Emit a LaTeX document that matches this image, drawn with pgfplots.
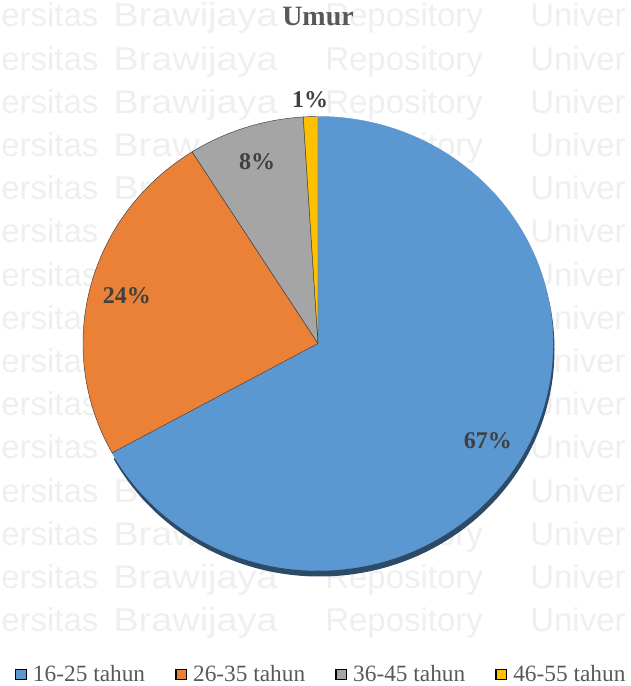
\documentclass[border=0pt]{standalone}
\usepackage{pgfplots}
\pgfplotsset{compat=1.18}
\usepackage{pgfplotstable}
\usepackage{fontspec}
\setmainfont{Liberation Serif}
\newfontfamily\wmfont{Liberation Sans}

\definecolor{cBlue}{HTML}{5B97D1}
\definecolor{cOrange}{HTML}{EA8136}
\definecolor{cGray}{HTML}{A5A5A5}
\definecolor{cYellow}{HTML}{FFC000}
\definecolor{cShadow}{HTML}{22405F}
\definecolor{cEdge}{HTML}{3F3F3F}
\definecolor{cTitle}{HTML}{595959}
\definecolor{cLabel}{HTML}{404040}
\definecolor{cWm}{HTML}{EFEFEF}

% Umur (age groups), percent of respondents
\pgfplotstableread{
group pct
16-25 67
26-35 24
36-45 8
46-55 1
}\agetable

\begin{document}
\begin{tikzpicture}
\useasboundingbox (0,0) rectangle (473.25pt,514.5pt);
\clip (0,0) rectangle (473.25pt,514.5pt);

\pgfplotstablegetelem{0}{pct}\of\agetable \edef\vA{\pgfplotsretval}
\pgfplotstablegetelem{1}{pct}\of\agetable \edef\vB{\pgfplotsretval}
\pgfplotstablegetelem{2}{pct}\of\agetable \edef\vC{\pgfplotsretval}
\pgfplotstablegetelem{3}{pct}\of\agetable \edef\vD{\pgfplotsretval}
\pgfmathsetmacro\aA{90}
\pgfmathsetmacro\aB{\aA-3.6*\vA}
\pgfmathsetmacro\aC{\aB-3.6*\vB}
\pgfmathsetmacro\aD{\aC-3.6*\vC}
\pgfmathsetmacro\aE{\aD-3.6*\vD}
\pgfmathsetmacro\mA{(\aA+\aB)/2}
\pgfmathsetmacro\mB{(\aB+\aC)/2}
\pgfmathsetmacro\mC{(\aC+\aD)/2}
\pgfmathsetmacro\mD{(\aD+\aE)/2}

\newcommand\slice[4]{%
  \filldraw[fill=#3, draw=#4, line width=0.35pt, line join=round]
    (axis cs:318,342.5) -- (axis cs:{318+235*cos(#1)},{342.5+227*sin(#1)})
    arc[start angle=#1, end angle=#2, x radius=176.25pt, y radius=170.25pt] -- cycle;}

\tikzset{wm/.style={anchor=base west, inner sep=0pt,
  font=\wmfont\fontsize{24.75}{26}\selectfont, text=cWm}}

\begin{axis}[
  x=0.75pt, y=0.75pt,
  xmin=0, xmax=631, ymin=0, ymax=686,
  hide axis, clip=false,
  anchor=origin, at={(0,0)},
  title={Umur},
  title style={at={(axis description cs:0.504,0.9515)}, anchor=base,
    font=\bfseries\fontsize{21}{24}\selectfont, text=cTitle},
  legend columns=4,
  legend image code/.code={\draw[#1, line width=1.1pt] (0pt,-3.9pt) rectangle (7.9pt,3.9pt);},
  legend style={at={(axis cs:15,11.5)}, anchor=west, draw=none, fill=none,
    inner sep=0pt, outer sep=0pt,
    font=\fontsize{17.5}{20}\selectfont, text=cTitle,
    nodes={inner sep=0pt, text=cTitle},
    /tikz/every odd column/.append style={column sep=4.5pt},
    /tikz/every even column/.append style={column sep=22.5pt}},
]
% repository watermark in the background (only the parts not hidden by the pie)
\pgfplotsinvokeforeach{0,...,14}{
  \node[wm] at (axis cs:1,{659-43.2*#1}) {ersitas};
  \node[wm] at (axis cs:530,{659-43.2*#1}) {Univer};
}
\pgfplotsinvokeforeach{0,1,2,4,5,10,11,12,13,14}{
  \node[wm, xscale=1.15] at (axis cs:113,{659-43.2*#1}) {Brawijaya};
}
\node[wm, xscale=1.15] at (axis cs:113,{659-43.2*3}) {Braw};
\pgfplotsinvokeforeach{0,1,2,3,4,11,12,13,14}{
  \node[wm] at (axis cs:325,{659-43.2*#1}) {Repository};
}
% shadow of the large slice
\fill[cShadow, opacity=0.95]
  (axis cs:319.5,336.5) -- (axis cs:{319.5+235*cos(\aA)},{336.5+227*sin(\aA)})
  arc[start angle=\aA, end angle=\aB, x radius=176.25pt, y radius=170.25pt] -- cycle;
% slices
\slice{\aA}{\aB}{cBlue}{cBlue}
\slice{\aB}{\aC}{cOrange}{cEdge}
\slice{\aC}{\aD}{cGray}{cEdge}
\slice{\aD}{\aE}{cYellow}{cEdge}
% data labels
\node[font=\bfseries\fontsize{18}{20}\selectfont, text=cLabel] at (axis cs:{318+0.84*235*cos(\mA)},{342.5+0.84*227*sin(\mA)}) {\vA\%};
\node[font=\bfseries\fontsize{18}{20}\selectfont, text=cLabel] at (axis cs:{318+0.84*235*cos(\mB)},{342.5+0.84*227*sin(\mB)}) {\vB\%};
\node[font=\bfseries\fontsize{18}{20}\selectfont, text=cLabel] at (axis cs:{318+0.84*235*cos(\mC)},{342.5+0.84*227*sin(\mC)}) {\vC\%};
\node[font=\bfseries\fontsize{18}{20}\selectfont, text=cLabel] at (axis cs:{318+1.075*235*cos(\mD)},{342.5+1.075*227*sin(\mD)}) {\vD\%};
% legend
\addlegendimage{fill=cBlue, draw=none}
\addlegendentry{16-25 tahun}
\addlegendimage{fill=cOrange, draw=black}
\addlegendentry{26-35 tahun}
\addlegendimage{fill=cGray, draw=black}
\addlegendentry{36-45 tahun}
\addlegendimage{fill=cYellow, draw=black}
\addlegendentry{46-55 tahun}
\end{axis}
\end{tikzpicture}
\end{document}
